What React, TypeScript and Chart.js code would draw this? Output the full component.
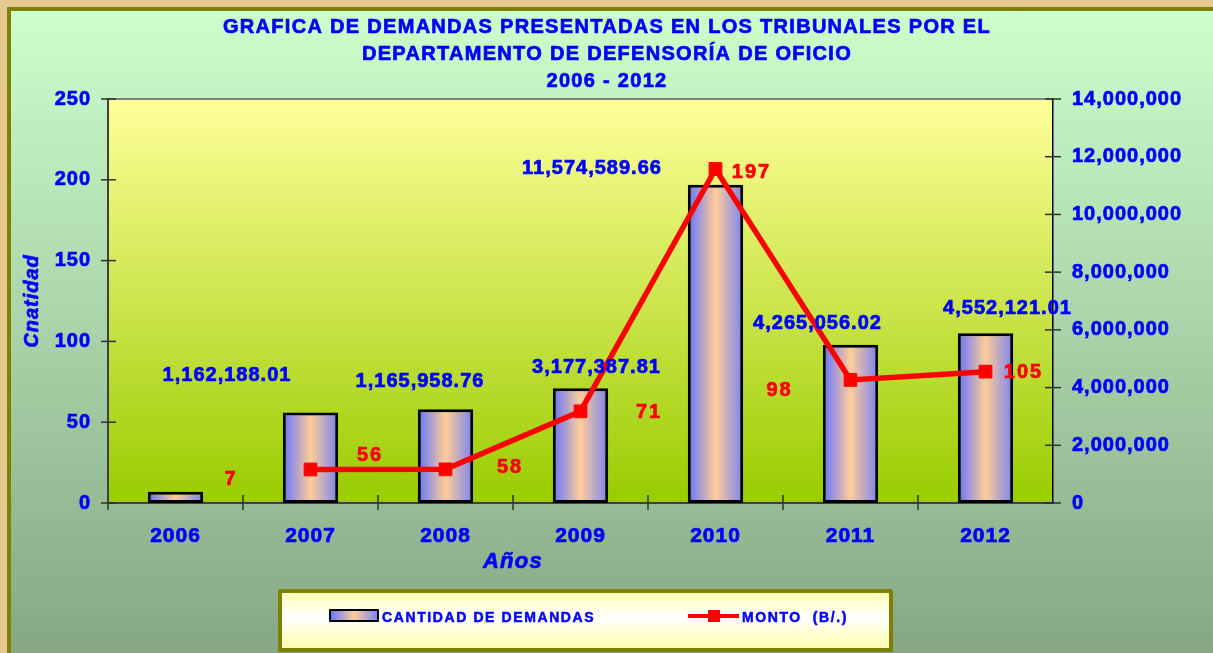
import React, { useEffect, useRef } from 'react';
import { Chart, registerables } from 'chart.js';

Chart.register(...registerables);

// ---------- data ----------
const years = ['2006', '2007', '2008', '2009', '2010', '2011', '2012'];
const cantidad = [7, 56, 58, 71, 197, 98, 105];
const monto: (number | null)[] = [null, 1162188.01, 1165958.76, 3177387.81, 11574589.66, 4265056.02, 4552121.01];
const leftMax = 250;
const leftStep = 50;
const rightMax = 14000000;
const rightStep = 2000000;
const titleLines = [
  'GRAFICA DE DEMANDAS PRESENTADAS EN LOS TRIBUNALES POR EL',
  'DEPARTAMENTO DE DEFENSORÍA DE OFICIO',
  '2006 - 2012',
];
const yTitle = 'Cnatidad';
const xTitle = 'Años';
const barName = 'CANTIDAD DE DEMANDAS';
const lineName = 'MONTO  (B/.)';

// label placement offsets (px, relative to each mark)
const barLabelOffsets = [[54.5, -14], [58.5, 41], [63.5, 57], [67.5, 23], [35, -13.6], [-72, 44], [37, 38]];
const montoLabelOffsets: (number[] | null)[] = [null, [-83.5, -95.5], [-25.5, -89], [16, -45], [-123.5, -2], [-33, -58], [22, -65]];

// ---------- styles ----------
const FONT = '"Liberation Sans", Arial, Helvetica, sans-serif';
const BLUE = '#0000ff';
const RED = '#ff0000';
const OLIVE = '#808000';
const BAR_PCT = 0.41;
const STROKE = 0.7;

function barGradient(ctx: CanvasRenderingContext2D, x0: number, x1: number): any {
  if (!isFinite(x0) || !isFinite(x1) || x1 <= x0) return '#8899ff';
  const g = ctx.createLinearGradient(x0, 0, x1, 0);
  g.addColorStop(0, '#6474ff');
  g.addColorStop(0.5, '#ffcc99');
  g.addColorStop(1, '#7a84f2');
  return g;
}

function fmtInt(v: number) {
  return Number(v).toLocaleString('en-US');
}
function fmtMoney(v: number) {
  return Number(v).toLocaleString('en-US', { minimumFractionDigits: 2, maximumFractionDigits: 2 });
}

function line(ctx: CanvasRenderingContext2D, x0: number, y0: number, x1: number, y1: number) {
  ctx.beginPath();
  ctx.moveTo(x0, y0);
  ctx.lineTo(x1, y1);
  ctx.stroke();
}

function heavyText(ctx: CanvasRenderingContext2D, t: string, x: number, y: number, color: string, w = STROKE) {
  ctx.fillStyle = color;
  ctx.strokeStyle = color;
  ctx.lineWidth = w;
  ctx.lineJoin = 'round';
  ctx.strokeText(t, x, y);
  ctx.fillText(t, x, y);
}

const decorPlugin = {
  id: 'decor',
  beforeDraw(chart: any) {
    const { ctx, chartArea } = chart;
    const { left, top, right, bottom } = chartArea;
    (ctx as any).letterSpacing = '1px';
    const g = ctx.createLinearGradient(0, top, 0, bottom);
    g.addColorStop(0, '#ffff99');
    g.addColorStop(1, '#99cc00');
    ctx.save();
    ctx.fillStyle = g;
    ctx.fillRect(left, top, right - left, bottom - top);
    ctx.strokeStyle = '#808080';
    ctx.lineWidth = 2;
    line(ctx, left, top, right, top);
    ctx.restore();
  },
  afterDatasetsDraw(chart: any) {
    const { ctx } = chart;
    ctx.save();
    ctx.textAlign = 'center';
    ctx.textBaseline = 'alphabetic';
    ctx.font = `bold 20px ${FONT}`;
    const barMeta = chart.getDatasetMeta(1);
    (ctx as any).letterSpacing = '2px';
    barMeta.data.forEach((el: any, i: number) => {
      const [dx, dy] = barLabelOffsets[i];
      heavyText(ctx, String(cantidad[i]), el.x + dx + 1, el.y + dy + 7, RED);
    });
    const lineMeta = chart.getDatasetMeta(0);
    (ctx as any).letterSpacing = '1px';
    lineMeta.data.forEach((el: any, i: number) => {
      const off = montoLabelOffsets[i];
      const v = monto[i];
      if (!off || v == null) return;
      heavyText(ctx, fmtMoney(v), el.x + off[0], el.y + off[1] + 7, BLUE);
    });
    ctx.restore();
  },
  afterDraw(chart: any) {
    const { ctx, chartArea, scales } = chart;
    const { left, right, bottom } = chartArea;
    ctx.save();
    ctx.strokeStyle = '#303030';
    ctx.lineWidth = 1.5;
    const ys = scales.y;
    ys.ticks.forEach((_t: any, i: number) => {
      const p = ys.getPixelForTick(i);
      line(ctx, left - 7, p, left + 8, p);
    });
    const y1 = scales.y1;
    y1.ticks.forEach((_t: any, i: number) => {
      const p = y1.getPixelForTick(i);
      line(ctx, right - 8, p, right + 8, p);
    });
    const xs = scales.x;
    for (let i = 0; i < years.length - 1; i++) {
      const p = (xs.getPixelForValue(i) + xs.getPixelForValue(i + 1)) / 2;
      line(ctx, p, bottom - 8, p, bottom + 7);
    }
    line(ctx, left, bottom, left, bottom + 7);

    ctx.textAlign = 'center';
    ctx.textBaseline = 'alphabetic';
    (ctx as any).letterSpacing = '1.3px';
    ctx.font = `bold 20px ${FONT}`;
    const baselines = [33, 60, 86.5];
    titleLines.forEach((t, i) => heavyText(ctx, t, 607, baselines[i], BLUE));

    ctx.font = `italic bold 22px ${FONT}`;
    heavyText(ctx, xTitle, 513, 568, BLUE);
    ctx.save();
    ctx.translate(38, 301);
    ctx.rotate(-Math.PI / 2);
    ctx.font = `italic bold 20px ${FONT}`;
    (ctx as any).letterSpacing = '1px';
    heavyText(ctx, yTitle, 0, 0, BLUE);
    ctx.restore();

    const lg = ctx.createLinearGradient(0, 592, 0, 650);
    lg.addColorStop(0, '#ffffb8');
    lg.addColorStop(0.45, '#ffffff');
    lg.addColorStop(1, '#ffffa8');
    ctx.fillStyle = lg;
    ctx.fillRect(280, 592, 611, 58);
    ctx.strokeStyle = OLIVE;
    ctx.lineWidth = 4;
    ctx.strokeRect(280, 591, 611, 59);

    ctx.fillStyle = barGradient(ctx, 330, 378);
    ctx.fillRect(330, 610, 48, 11);
    ctx.strokeStyle = '#000';
    ctx.lineWidth = 2;
    ctx.strokeRect(330, 610, 48, 11);
    ctx.strokeStyle = RED;
    ctx.lineWidth = 4;
    line(ctx, 688, 616, 739, 616);
    ctx.fillStyle = RED;
    ctx.fillRect(708, 610, 12, 12);

    ctx.textAlign = 'left';
    (ctx as any).letterSpacing = '1.6px';
    ctx.font = `bold 14px ${FONT}`;
    heavyText(ctx, barName, 382, 622, BLUE, 0.5);
    heavyText(ctx, lineName, 742, 622, BLUE, 0.5);
    ctx.restore();
  },
};

export default function App() {
  const ref = useRef<HTMLCanvasElement | null>(null);

  useEffect(() => {
    if (!ref.current) return;
    const tickFont = { family: FONT, size: 20, weight: 'bold' };
    const chart = new Chart(ref.current, {
      type: 'bar',
      data: {
        labels: years,
        datasets: [
          {
            type: 'line',
            label: lineName,
            data: monto as any,
            yAxisID: 'y1',
            order: 0,
            borderColor: RED,
            borderWidth: 5.5,
            backgroundColor: RED,
            pointStyle: 'rect',
            pointRadius: 9,
            pointBackgroundColor: RED,
            pointBorderColor: RED,
            pointBorderWidth: 1,
            tension: 0,
            spanGaps: false,
          } as any,
          {
            type: 'bar',
            label: barName,
            data: cantidad,
            yAxisID: 'y',
            order: 1,
            barPercentage: BAR_PCT,
            categoryPercentage: 1,
            borderColor: '#000000',
            borderWidth: 3,
            borderSkipped: false,
            backgroundColor: (c: any) => {
              const ch = c.chart;
              const xs = ch.scales && ch.scales.x;
              if (!xs || c.dataIndex == null || !ch.chartArea) return '#8899ff';
              const cx = xs.getPixelForValue(c.dataIndex);
              const hw = (xs.width / years.length) * BAR_PCT / 2;
              return barGradient(ch.ctx, cx - hw, cx + hw);
            },
          } as any,
        ],
      },
      options: {
        responsive: false,
        animation: false,
        devicePixelRatio: 1,
        layout: { padding: { top: 99, left: 0, right: 0, bottom: 0 } },
        plugins: {
          legend: { display: false },
          title: { display: false },
          tooltip: { enabled: false },
        },
        scales: {
          x: {
            offset: true,
            grid: { display: false, drawTicks: false },
            border: { display: true, color: '#404040', width: 2 },
            ticks: {
              color: BLUE,
              font: { ...tickFont, size: 21 },
              padding: 21,
              textStrokeColor: BLUE,
              textStrokeWidth: STROKE,
            },
            afterFit: (s: any) => { s.height = 150; },
          },
          y: {
            position: 'left',
            min: 0,
            max: leftMax,
            grid: { display: false, drawTicks: false },
            border: { display: true, color: '#404040', width: 2 },
            ticks: {
              stepSize: leftStep,
              color: BLUE,
              font: tickFont,
              padding: 17,
              textStrokeColor: BLUE,
              textStrokeWidth: STROKE,
            },
            afterFit: (s: any) => { s.width = 108; },
          },
          y1: {
            position: 'right',
            min: 0,
            max: rightMax,
            grid: { display: false, drawTicks: false },
            border: { display: true, color: '#000000', width: 1.5 },
            ticks: {
              stepSize: rightStep,
              color: BLUE,
              font: tickFont,
              padding: 19,
              textStrokeColor: BLUE,
              textStrokeWidth: STROKE,
              callback: (v: any) => fmtInt(v),
            },
            afterFit: (s: any) => { s.width = 160; },
          },
        },
      } as any,
      plugins: [decorPlugin],
    });
    return () => chart.destroy();
  }, []);

  return (
    <div style={{ position: 'fixed', left: 0, top: 0, width: 1213, height: 653, overflow: 'hidden', background: '#e5c790' }}>
      <div
        style={{
          position: 'absolute',
          left: 7,
          top: 7,
          width: 1260,
          height: 700,
          border: `4px solid ${OLIVE}`,
          boxSizing: 'border-box',
          background: 'linear-gradient(to bottom, #ccffcc 0px, #86a684 646px, #84a482 700px)',
        }}
      />
      <canvas
        ref={ref}
        width={1213}
        height={653}
        style={{ position: 'absolute', left: 0, top: 0, width: 1213, height: 653 }}
      />
    </div>
  );
}
